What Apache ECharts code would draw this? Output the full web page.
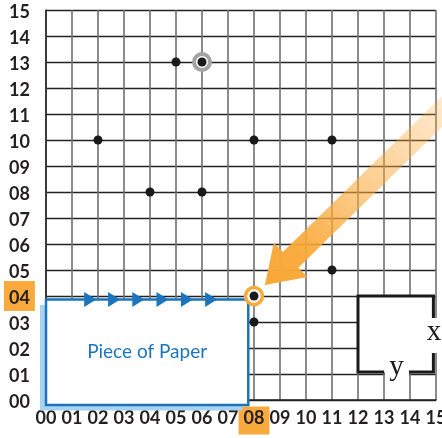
<!DOCTYPE html>
<html><head><meta charset="utf-8">
<script src="https://cdn.jsdelivr.net/npm/echarts@6/dist/echarts.min.js"></script>
<style>html,body{margin:0;padding:0;background:#fff}#c{width:442px;height:438px}</style>
</head><body><div id="c"></div>
<script>
// ---- data ----
const xTickLabels = ['00','01','02','03','04','05','06','07','08','09','10','11','12','13','14','15'];
const yTickLabels = ['00','01','02','03','04','05','06','07','08','09','10','11','12','13','14','15'];
const dotX = [5, 6, 2, 8, 11, 4, 6, 11, 8, 8];
const dotY = [13, 13, 10, 10, 10, 8, 8, 5, 4, 3];
const grayRingPoint = [6, 13];
const orangeRingPoint = [8, 4];
const highlightX = 8;
const highlightY = 4;
const paperArrowX = [1.7, 2.62, 3.55, 4.48, 5.42, 6.35];
const paperEdgeY = 3.87;
const paperCorners = [[0, -0.19], [7.78, 3.87]];
const paperLabel = 'Piece of Paper';
const arrowTail = [15.9, 11.75];
const arrowTip = [8.42, 4.42];
const xyBoxCorners = [[12, 1.08], [14.9, 4]];
const xyGapRight = [1.81, 3.15];
const xyGapBottom = [13.0, 13.96];
const xyLabelX = 'x';
const xyLabelY = 'y';

// ---- styles ----
const FONT = 'Lato';
const ORANGE = '#F9AA3C';
const BLUE = '#1B75BC';
const INK = '#231f20';

const chart = echarts.init(document.getElementById('c'));

function labelRich(padN, padH) {
  const base = {fontFamily: FONT, fontSize: 18, fontWeight: 'bold', color: INK, lineHeight: 20};
  return {
    n: Object.assign({}, base, {padding: padN}),
    hl: Object.assign({}, base, {padding: padH, backgroundColor: ORANGE})
  };
}

const option = {
  animation: false,
  grid: {left: 46, right: 6, top: 10, bottom: 38, containLabel: false, outerBoundsMode: 'none'},
  xAxis: {
    type: 'value', min: 0, max: 15, interval: 1,
    axisLine: {show: true, lineStyle: {color: '#222', width: 1.5}},
    axisTick: {show: false},
    splitLine: {show: true, lineStyle: {color: '#707070', width: 1.6}},
    axisLabel: {
      margin: 10.5, hideOverlap: false,
      formatter: v => (v === highlightX ? '{hl|' : '{n|') + xTickLabels[v] + '}',
      rich: labelRich([3, 0, 7, 0], [3, 5, 7, 5])
    }
  },
  yAxis: {
    type: 'value', min: 0, max: 15, interval: 1,
    axisLine: {show: true, lineStyle: {color: '#222', width: 1.5}},
    axisTick: {show: false},
    splitLine: {show: true, lineStyle: {color: '#222', width: 1.3}},
    axisLabel: {
      margin: 42, align: 'left', verticalAlign: 'middle', hideOverlap: false,
      formatter: v => (v === highlightY ? '{hl|' : '{n|') + yTickLabels[v] + '}',
      rich: labelRich([4, 0, 0, 5], [8, 5, 4, 5])
    }
  },
  series: [
    { // x / y box
      type: 'custom', data: [[0, 0]], silent: true,
      renderItem: (params, api) => {
        const p0 = api.coord([xyBoxCorners[0][0], xyBoxCorners[1][1]]);
        const p1 = api.coord([xyBoxCorners[1][0], xyBoxCorners[0][1]]);
        const gr1 = api.coord([xyBoxCorners[1][0], xyGapRight[1]]);
        const gr0 = api.coord([xyBoxCorners[1][0], xyGapRight[0]]);
        const gb0 = api.coord([xyGapBottom[0], xyBoxCorners[0][1]]);
        const gb1 = api.coord([xyGapBottom[1], xyBoxCorners[0][1]]);
        const ls = {stroke: '#1a1a1a', lineWidth: 3, fill: null};
        return {type: 'group', children: [
          {type: 'rect', shape: {x: p0[0], y: p0[1], width: p1[0] - p0[0], height: p1[1] - p0[1]}, style: {fill: '#fff'}},
          {type: 'rect', shape: {x: gr1[0] - 8, y: gr1[1], width: 20, height: gr0[1] - gr1[1]}, style: {fill: '#fff'}},
          {type: 'rect', shape: {x: gb0[0] + 1, y: gb0[1] - 6, width: gb1[0] - gb0[0] - 1, height: 18}, style: {fill: '#fff'}},
          {type: 'polyline', shape: {points: [[gb0[0], p1[1]], [p0[0], p1[1]], [p0[0], p0[1]], [p1[0], p0[1]], [p1[0], gr1[1]]]}, style: ls},
          {type: 'polyline', shape: {points: [[p1[0], gr0[1]], [p1[0], p1[1]], [gb1[0], p1[1]]]}, style: ls},
          {type: 'text', style: {text: xyLabelX, x: p1[0] + 0.5, y: (gr0[1] + gr1[1]) / 2 - 3, align: 'center', verticalAlign: 'middle', fontFamily: 'Liberation Serif', fontSize: 29, fill: '#1a1a1a'}},
          {type: 'text', style: {text: xyLabelY, x: (gb0[0] + gb1[0]) / 2, y: p1[1] - 5, align: 'center', verticalAlign: 'middle', fontFamily: 'Liberation Serif', fontSize: 29, fill: '#1a1a1a'}}
        ]};
      }
    },
    { // piece of paper
      type: 'custom', data: [[0, 0]], silent: true,
      renderItem: (params, api) => {
        const a = api.coord([paperCorners[0][0], paperCorners[1][1]]);
        const b = api.coord([paperCorners[1][0], paperCorners[0][1]]);
        const w = b[0] - a[0], h = b[1] - a[1];
        return {type: 'group', children: [
          {type: 'rect', shape: {x: a[0] - 6, y: a[1] + 5.5, width: w, height: h}, style: {fill: '#A7D3F0'}},
          {type: 'rect', shape: {x: a[0], y: a[1], width: w, height: h}, style: {fill: '#fff', stroke: BLUE, lineWidth: 2.5}},
          {type: 'text', style: {text: paperLabel, x: a[0] + w / 2, y: a[1] + h / 2, align: 'center', verticalAlign: 'middle', fontFamily: FONT, fontSize: 19, fill: BLUE}}
        ]};
      }
    },
    { // arrowheads on the paper edge
      type: 'scatter', symbol: 'triangle', symbolRotate: -90, symbolSize: [15, 12],
      itemStyle: {color: BLUE, opacity: 1}, silent: true,
      data: paperArrowX.map(x => [x, paperEdgeY])
    },
    { // big orange arrow
      type: 'custom', data: [[0, 0]], silent: true,
      renderItem: (params, api) => {
        const a = api.coord(arrowTail), b = api.coord(arrowTip);
        const dx = b[0] - a[0], dy = b[1] - a[1], L = Math.hypot(dx, dy);
        const ux = dx / L, uy = dy / L, nx = -uy, ny = ux;
        const hl = 36, hw = 24, sw = 11;
        const bx = b[0] - ux * hl, by = b[1] - uy * hl;
        const pts = [
          [a[0] + nx * sw, a[1] + ny * sw], [bx + nx * sw, by + ny * sw], [bx + nx * hw, by + ny * hw],
          [b[0], b[1]], [bx - nx * hw, by - ny * hw], [bx - nx * sw, by - ny * sw], [a[0] - nx * sw, a[1] - ny * sw]
        ];
        return {type: 'polygon', shape: {points: pts}, style: {fill: {
          type: 'linear', global: true, x: a[0], y: a[1], x2: b[0], y2: b[1],
          colorStops: [
            {offset: 0, color: 'rgba(249,168,55,0.2)'},
            {offset: 0.55, color: 'rgba(249,168,55,0.62)'},
            {offset: 0.82, color: 'rgba(249,168,55,0.95)'},
            {offset: 1, color: 'rgba(249,168,55,1)'}
          ]}}};
      }
    },
    { // gray ring
      type: 'scatter', symbol: 'circle', symbolSize: 16, silent: true,
      itemStyle: {color: '#fff', borderColor: '#a3a3a3', borderWidth: 4, opacity: 1},
      data: [grayRingPoint]
    },
    { // orange ring
      type: 'scatter', symbol: 'circle', symbolSize: 17, silent: true,
      itemStyle: {color: '#fff', borderColor: ORANGE, borderWidth: 3.5, opacity: 1},
      data: [orangeRingPoint]
    },
    { // dots
      type: 'scatter', symbol: 'circle', symbolSize: 9, silent: true,
      itemStyle: {color: '#1a1a1a', opacity: 1},
      data: dotX.map((x, i) => [x, dotY[i]])
    }
  ]
};
chart.setOption(option);
</script>
</body></html>
